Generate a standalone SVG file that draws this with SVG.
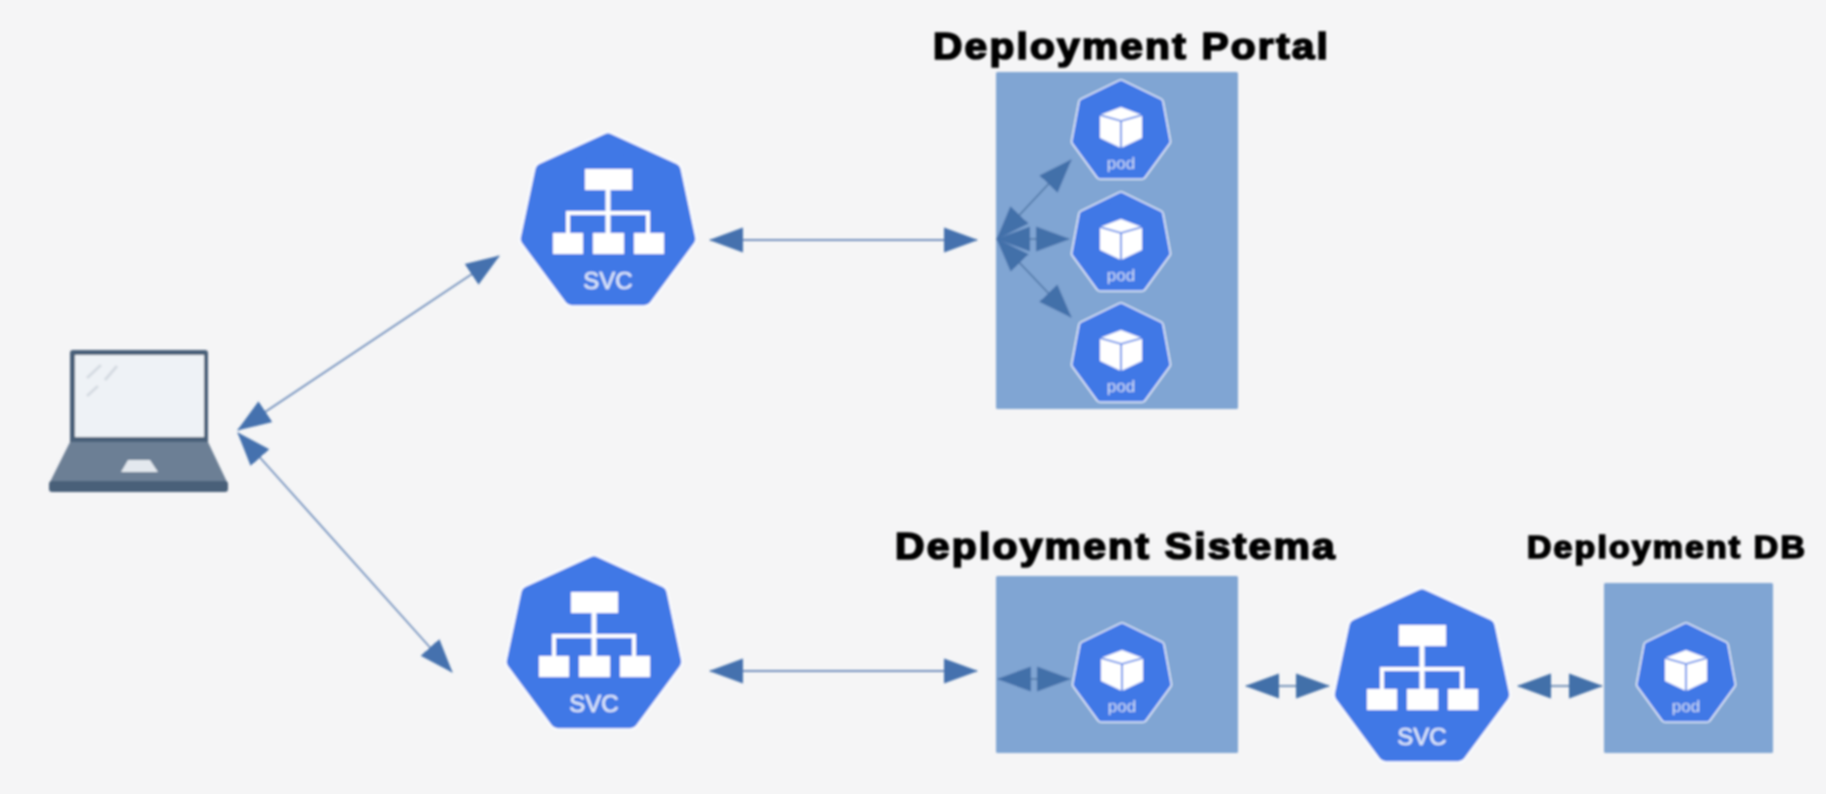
<svg xmlns="http://www.w3.org/2000/svg" width="1826" height="794" viewBox="0 0 1826 794">
<style>
.title{font-family:"Liberation Sans",Arial,sans-serif;font-weight:700;fill:#000;stroke:#000;stroke-width:1.7;letter-spacing:2px}
.svct{font-family:"Liberation Sans",Arial,sans-serif;font-size:24px;fill:#dfe8fa;stroke:#dfe8fa;stroke-width:.5;text-anchor:middle}
.podt{font-family:"Liberation Sans",Arial,sans-serif;font-size:17px;fill:#cfdcf6;text-anchor:middle}
.box{fill:#80a5d3}
.halo{fill:#fff;stroke-linejoin:round}
.blue{fill:#4178e6;stroke:#4178e6;stroke-linejoin:round}
.conn{fill:none;stroke:#7391bd;stroke-width:1.8;marker-start:url(#ah);marker-end:url(#ah)}
.conn.in{stroke:#4f76a6;stroke-width:1.6;marker-start:url(#ahd);marker-end:url(#ahd)}
</style>
<defs>
<filter id="soft" filterUnits="userSpaceOnUse" x="0" y="0" width="1826" height="794"><feGaussianBlur stdDeviation="0.8"/></filter>
<marker id="ah" markerUnits="userSpaceOnUse" markerWidth="36" markerHeight="28" refX="33" refY="13" orient="auto-start-reverse"><path d="M0,0.5 L34,13 L0,25.5Z" fill="#4471ae"/></marker>
<marker id="ahd" markerUnits="userSpaceOnUse" markerWidth="36" markerHeight="28" refX="33" refY="13" orient="auto-start-reverse"><path d="M0,0.5 L34,13 L0,25.5Z" fill="#436fa9"/></marker>
<g id="svc-shape">
<polygon class="halo" stroke="#fcfdff" stroke-width="18" points="0,8.3 65.7,38.4 80.3,106.9 36.5,166.2 -36.5,166.2 -80.3,106.9 -65.7,38.4"/>
<polygon class="blue" stroke-width="14" points="0,8.3 65.7,38.4 80.3,106.9 36.5,166.2 -36.5,166.2 -80.3,106.9 -65.7,38.4"/>
<g fill="#fff">
<rect x="-23" y="37" width="47" height="21"/>
<rect x="-55" y="101" width="30" height="21"/>
<rect x="-15" y="101" width="31" height="21"/>
<rect x="26" y="101" width="30" height="21"/>
<rect x="-2.5" y="58" width="5" height="43"/>
<path d="M-42,101V79H42V101H38V83H-38V101Z"/>
</g>
</g>
<g id="pod-shape">
<polygon class="halo" stroke="#fff" stroke-width="8.5" points="0,3.5 38.5,22.2 45.8,61.6 21,95.5 -21,95.5 -45.8,61.6 -38.5,22.2"/>
<polygon class="blue" stroke-width="6" points="0,3.5 38.5,22.2 45.8,61.6 21,95.5 -21,95.5 -45.8,61.6 -38.5,22.2"/>
<path fill="#fff" d="M0,27 L21,35 L21,58 L0,68 L-21,58 L-21,35Z"/>
<path fill="none" stroke="#4178e6" stroke-width="1.6" d="M-21,35 L0,41 L21,35 M0,41 V68"/>
</g>
</defs>
<rect width="1826" height="794" fill="#f5f5f6"/>
<g filter="url(#soft)">
<g id="deployment-portal">
<rect class="box" x="996" y="72" width="242" height="337" rx="1.5"/>
<text class="title" x="933" y="59" font-size="37" textLength="397" lengthAdjust="spacingAndGlyphs">Deployment Portal</text>
</g>
<g id="deployment-sistema">
<rect class="box" x="996" y="576" width="242" height="177" rx="1.5"/>
<text class="title" x="895" y="559" font-size="37" textLength="442" lengthAdjust="spacingAndGlyphs">Deployment Sistema</text>
</g>
<g id="deployment-db">
<rect class="box" x="1604" y="583" width="169" height="170" rx="1.5"/>
<text class="title" x="1527" y="558" font-size="31" textLength="280" lengthAdjust="spacingAndGlyphs">Deployment DB</text>
</g>
<g id="connectors">
<line class="conn" x1="710" y1="240" x2="977" y2="240"/>
<line class="conn" x1="238" y1="430" x2="499" y2="256"/>
<line class="conn" x1="238" y1="433" x2="452" y2="672"/>
<line class="conn" x1="710" y1="671" x2="977" y2="671"/>
<line class="conn in" x1="997" y1="239" x2="1071" y2="160"/>
<line class="conn in" x1="997" y1="239" x2="1069" y2="239"/>
<line class="conn in" x1="997" y1="239" x2="1071" y2="317"/>
<line class="conn in" x1="998" y1="679" x2="1070" y2="679"/>
<line class="conn in" x1="1246" y1="686" x2="1329" y2="686"/>
<line class="conn in" x1="1518" y1="686" x2="1602" y2="686"/>
</g>
<g id="laptop">
<path d="M70,442V353a3,3 0 0 1 3,-3H205a3,3 0 0 1 3,3V442Z" fill="#4a6079"/>
<rect x="75" y="355" width="129" height="82" fill="#eef2f6"/>
<path d="M87,378L101,365M105,380L117,366M87,396L98,386" stroke="#d5dbe2" stroke-width="3" fill="none"/>
<path d="M70,442H208L227,482H50Z" fill="#6c7f95"/>
<rect x="49" y="481" width="179" height="11" rx="3" fill="#4a6079"/>
<path d="M128,460H150L158,472H121Z" fill="#e3e8ee"/>
</g>
<g id="svc-1"><use href="#svc-shape" transform="translate(608,132)"/><text class="svct" x="608" y="289">SVC</text></g>
<g id="svc-2"><use href="#svc-shape" transform="translate(594,555)"/><text class="svct" x="594" y="712">SVC</text></g>
<g id="svc-3"><use href="#svc-shape" transform="translate(1422,588)"/><text class="svct" x="1422" y="745">SVC</text></g>
<g id="pod-portal-1"><use href="#pod-shape" transform="translate(1121,80)"/><text class="podt" x="1121" y="169">pod</text></g>
<g id="pod-portal-2"><use href="#pod-shape" transform="translate(1121,192)"/><text class="podt" x="1121" y="281">pod</text></g>
<g id="pod-portal-3"><use href="#pod-shape" transform="translate(1121,303)"/><text class="podt" x="1121" y="392">pod</text></g>
<g id="pod-sistema"><use href="#pod-shape" transform="translate(1122,623)"/><text class="podt" x="1122" y="712">pod</text></g>
<g id="pod-db"><use href="#pod-shape" transform="translate(1686,623)"/><text class="podt" x="1686" y="712">pod</text></g>
</g>
</svg>
